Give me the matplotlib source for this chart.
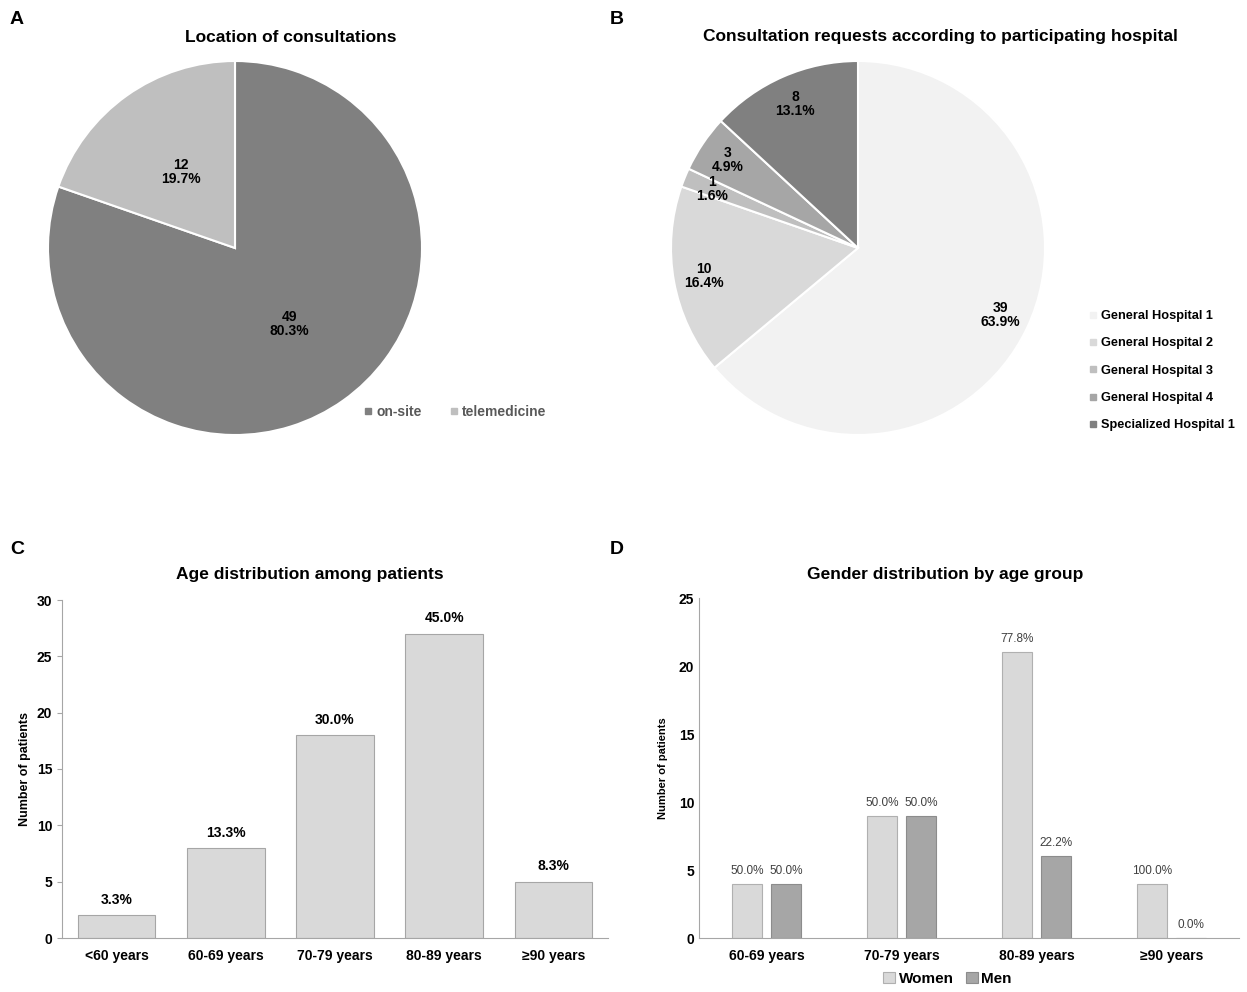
import matplotlib
matplotlib.use("Agg")
import matplotlib.pyplot as plt
from matplotlib.lines import Line2D
import numpy as np

plt.rcParams['font.family'] = ['Liberation Sans', 'DejaVu Sans']
plt.rcParams['font.weight'] = 'bold'

# Panel A: location of consultations
loc_labels = ['on-site', 'telemedicine']
loc_counts = [49, 12]
loc_colors = ['#808080', '#bfbfbf']

# Panel B: requests by hospital
hosp_labels = ['General Hospital 1', 'General Hospital 2', 'General Hospital 3',
               'General Hospital 4', 'Specialized Hospital 1']
hosp_counts = [39, 10, 1, 3, 8]
hosp_colors = ['#f2f2f2', '#d9d9d9', '#bfbfbf', '#a6a6a6', '#808080']

# Panel C: age distribution
age_groups = ['<60 years', '60-69 years', '70-79 years', '80-89 years', '≥90 years']
age_counts = [2, 8, 18, 27, 5]
age_pct = ['3.3%', '13.3%', '30.0%', '45.0%', '8.3%']

# Panel D: gender by age group
gender_groups = ['60-69 years', '70-79 years', '80-89 years', '≥90 years']
women = [4, 9, 21, 4]
men = [4, 9, 6, 0]
women_pct = ['50.0%', '50.0%', '77.8%', '100.0%']
men_pct = ['50.0%', '50.0%', '22.2%', '0.0%']

W, H = 1247, 992
fig = plt.figure(figsize=(W / 100, H / 100), dpi=100)


def px_axes(left, top, right, bottom):
    return fig.add_axes([left / W, 1 - bottom / H, (right - left) / W, (bottom - top) / H])


def fig_text(x, y, s, **kw):
    fig.text(x / W, 1 - y / H, s, **kw)


def pie_label(counts):
    total = sum(counts)
    return lambda p: f"{round(p * total / 100)}\n{p:.1f}%"


# ---- A ----
axA = px_axes(48, 61, 422, 435)
axA.pie(loc_counts, colors=loc_colors, startangle=90, counterclock=False,
        wedgeprops=dict(edgecolor='white', linewidth=1.5),
        autopct=pie_label(loc_counts), pctdistance=0.5,
        textprops=dict(fontsize=10, fontweight='bold', linespacing=1.05))
axA.set_xlim(-1, 1)
axA.set_ylim(-1, 1)
handles = [Line2D([], [], marker='s', ls='', markersize=4, color=c) for c in loc_colors]
fig.legend(handles, loc_labels, loc='center', bbox_to_anchor=(455 / W, 1 - 412 / H),
           ncol=2, frameon=False, fontsize=10, handlelength=0.6, handletextpad=0.3,
           columnspacing=2.0, labelcolor='#595959')

# ---- B ----
axB = px_axes(671, 61, 1045, 435)
axB.pie(hosp_counts, colors=hosp_colors, startangle=90, counterclock=False,
        wedgeprops=dict(edgecolor='white', linewidth=1.5),
        autopct=pie_label(hosp_counts), pctdistance=0.84,
        textprops=dict(fontsize=10, fontweight='bold', linespacing=1.0))
axB.set_xlim(-1, 1)
axB.set_ylim(-1, 1)
handles = [Line2D([], [], marker='s', ls='', markersize=4, color=c) for c in hosp_colors]
fig.legend(handles, hosp_labels, loc='upper left', bbox_to_anchor=(1084 / W, 1 - 305 / H),
           frameon=False, fontsize=9.2, handlelength=0.6, handletextpad=0.3,
           labelspacing=1.2, borderaxespad=0)

# ---- C ----
axC = px_axes(62, 600, 608, 938)
xc = np.arange(len(age_groups))
bars = axC.bar(xc, age_counts, width=0.71, color='#d9d9d9', edgecolor='#a6a6a6', linewidth=0.8)
for b, t in zip(bars, age_pct):
    axC.annotate(t, (b.get_x() + b.get_width() / 2, b.get_height()), xytext=(0, 6),
                 textcoords='offset points', ha='center', va='bottom', fontsize=10,
                 fontweight='bold')
axC.set_xlim(-0.5, len(age_groups) - 0.5)
axC.set_ylim(0, 30)
axC.set_yticks(range(0, 31, 5))
axC.set_xticks(xc, age_groups)
axC.set_ylabel('Number of patients', fontsize=9, fontweight='bold', labelpad=4)

# ---- D ----
axD = px_axes(699, 598, 1239, 938)
xd = np.arange(len(gender_groups))
off, bw = 0.144, 0.222
bw_ = axD.bar(xd - off, women, width=bw, color='#d9d9d9', edgecolor='#b0b0b0', linewidth=0.8,
              label='Women')
bm_ = axD.bar(xd + off, men, width=bw, color='#a6a6a6', edgecolor='#8c8c8c', linewidth=0.8,
              label='Men')
for bars, labels in ((bw_, women_pct), (bm_, men_pct)):
    for b, t in zip(bars, labels):
        axD.annotate(t, (b.get_x() + b.get_width() / 2, b.get_height()), xytext=(0, 5),
                     textcoords='offset points', ha='center', va='bottom', fontsize=8.5,
                     fontweight='normal', color='#404040')
axD.set_xlim(-0.5, len(gender_groups) - 0.5)
axD.set_ylim(0, 25)
axD.set_yticks(range(0, 26, 5))
axD.set_xticks(xd, gender_groups)
axD.set_ylabel('Number of patients', fontsize=8, fontweight='bold', labelpad=8)
axD.tick_params(axis='y', length=0)
axD.legend(loc='center', bbox_to_anchor=(0.46, -0.12), ncol=2, frameon=False, fontsize=11,
           handlelength=0.8, handleheight=0.8, handletextpad=0.2, columnspacing=0.8)

for ax in (axC, axD):
    for s in ('top', 'right'):
        ax.spines[s].set_visible(False)
    for s in ('left', 'bottom'):
        ax.spines[s].set_color('#a6a6a6')
    ax.tick_params(axis='x', length=0, pad=8, labelsize=10)
    ax.tick_params(axis='y', colors='#a6a6a6', labelcolor='black', labelsize=10)
    for lab in ax.get_xticklabels() + ax.get_yticklabels():
        lab.set_fontweight('bold')

# titles and panel letters
fig_text(291, 37, 'Location of consultations', ha='center', va='center', fontsize=12.5,
         fontweight='bold')
fig_text(940, 37, 'Consultation requests according to participating hospital', ha='center',
         va='center', fontsize=12.5, fontweight='bold')
fig_text(310, 575, 'Age distribution among patients', ha='center', va='center', fontsize=12.5,
         fontweight='bold')
fig_text(945, 575, 'Gender distribution by age group', ha='center', va='center', fontsize=12.5,
         fontweight='bold')
for letter, x, y in (('A', 10, 20), ('B', 610, 20), ('C', 10, 550), ('D', 610, 550)):
    fig_text(x, y, letter, ha='left', va='center', fontsize=14, fontweight='bold')

fig.savefig('out.png', dpi=100)
